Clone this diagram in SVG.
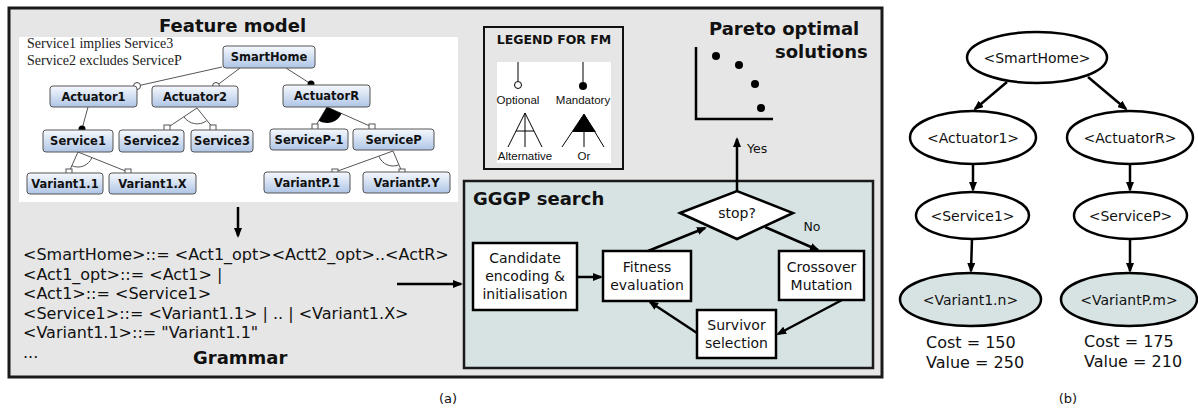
<svg xmlns="http://www.w3.org/2000/svg" width="1198" height="410" viewBox="0 0 1198 410">
<defs>
<linearGradient id="fg" x1="0" y1="0" x2="0" y2="1">
<stop offset="0" stop-color="#f6f9fd"/>
<stop offset="1" stop-color="#afc5e6"/>
</linearGradient>
<marker id="ah" viewBox="0 0 10 8" refX="8" refY="4" markerWidth="10" markerHeight="8" markerUnits="userSpaceOnUse" orient="auto">
<path d="M0,0 L10,4 L0,8 z" fill="#000"/>
</marker>
</defs>
<style>
.fm rect{fill:url(#fg);stroke:#555;stroke-width:1}
.fm text{font-family:"DejaVu Sans",sans-serif;font-weight:bold;font-size:11.5px;text-anchor:middle;fill:#111}
.fl{stroke:#555;stroke-width:1;fill:none}
.sq{fill:#fff;stroke:#555;stroke-width:1}
.oc{fill:#fff;stroke:#444;stroke-width:1}
.mc{fill:#000}
.t{font-family:"DejaVu Sans",sans-serif;fill:#111}
.b{font-family:"DejaVu Sans",sans-serif;font-weight:bold;font-size:18px;fill:#111}
.gr{font-family:"DejaVu Sans",sans-serif;font-size:16px;fill:#111}
.box{fill:#fff;stroke:#000;stroke-width:2.5}
.bt{font-family:"DejaVu Sans",sans-serif;font-size:14px;text-anchor:middle;fill:#111}
.ar{stroke:#000;stroke-width:2.5;fill:none;marker-end:url(#ah)}
.el{fill:#fff;stroke:#000;stroke-width:2.5}
.elv{fill:#d7e3e3;stroke:#000;stroke-width:2.5}
.lg{font-family:"Liberation Sans",sans-serif;font-size:11.5px;text-anchor:middle;fill:#111}
.ll{stroke:#000;stroke-width:1;fill:none}
</style>

<!-- panel (a) -->
<g id="panel-a">
<rect x="9" y="8" width="873" height="369" fill="#e6e6e6" stroke="#1a1a1a" stroke-width="3"/>
<text class="b" x="159" y="32">Feature model</text>
<rect x="19" y="37" width="439" height="165" fill="#fff"/>
<text x="27" y="48" font-family="Liberation Serif,serif" font-size="14px" fill="#222">Service1 implies Service3</text>
<text x="27" y="65" font-family="Liberation Serif,serif" font-size="14px" fill="#222">Service2 excludes ServiceP</text>
</g>

<!-- feature model connectors -->
<g id="fm-connectors">
<line class="fl" x1="222" y1="67" x2="137" y2="86"/>
<line class="fl" x1="240" y1="68" x2="216" y2="86"/>
<line class="fl" x1="286" y1="68" x2="311" y2="84"/>
<line class="fl" x1="88" y1="107" x2="82" y2="129"/>
<circle class="oc" cx="137" cy="86" r="3.5"/>
<circle class="oc" cx="216" cy="86" r="3.5"/>
<circle class="mc" cx="311" cy="84" r="3.5"/>
<circle class="mc" cx="82" cy="129" r="3.5"/>
<!-- Actuator2 alternative -->
<line class="fl" x1="197" y1="108" x2="167" y2="128"/>
<line class="fl" x1="197" y1="108" x2="213" y2="128"/>
<path class="fl" d="M184,116.9 A16,16 0 0 0 206.6,120.8"/>
<rect class="sq" x="164" y="125" width="6" height="6"/>
<rect class="sq" x="210" y="125" width="6" height="6"/>
<!-- ActuatorR or -->
<line class="fl" x1="327" y1="107" x2="315" y2="127"/>
<line class="fl" x1="327" y1="107" x2="372" y2="127"/>
<path d="M327,107 L318.8,120.7 A16,16 0 0 0 341.6,113.5 Z" fill="#000"/>
<rect class="sq" x="312" y="124" width="6" height="6"/>
<rect class="sq" x="369" y="124" width="6" height="6"/>
<!-- Service1 alternative -->
<line class="fl" x1="78" y1="152" x2="69" y2="172"/>
<line class="fl" x1="78" y1="152" x2="128" y2="172"/>
<path class="fl" d="M71.8,165.7 A15,15 0 0 0 91.9,157.6"/>
<rect class="sq" x="66" y="169" width="6" height="6"/>
<rect class="sq" x="125" y="169" width="6" height="6"/>
<!-- ServiceP alternative -->
<line class="fl" x1="393" y1="151" x2="335" y2="172"/>
<line class="fl" x1="393" y1="151" x2="402" y2="172"/>
<path class="fl" d="M378.9,156.1 A15,15 0 0 0 398.9,164.8"/>
<rect class="sq" x="332" y="169" width="6" height="6"/>
<rect class="sq" x="399" y="169" width="6" height="6"/>
</g>

<!-- feature model nodes -->
<g id="fm-smarthome" class="fm"><rect x="223" y="46" width="92" height="22" rx="3"/><text x="269" y="61">SmartHome</text></g>
<g id="fm-actuator1" class="fm"><rect x="50" y="86" width="87" height="21" rx="3"/><text x="93.5" y="100.5">Actuator1</text></g>
<g id="fm-actuator2" class="fm"><rect x="152" y="86" width="86" height="21" rx="3"/><text x="195" y="100.5">Actuator2</text></g>
<g id="fm-actuatorr" class="fm"><rect x="283" y="85" width="87" height="22" rx="3"/><text x="326.5" y="100">ActuatorR</text></g>
<g id="fm-service1" class="fm"><rect x="43" y="130" width="70" height="22" rx="3"/><text x="78" y="145">Service1</text></g>
<g id="fm-service2" class="fm"><rect x="119" y="130" width="65" height="22" rx="3"/><text x="151.5" y="145">Service2</text></g>
<g id="fm-service3" class="fm"><rect x="191" y="130" width="62" height="22" rx="3"/><text x="222" y="145">Service3</text></g>
<g id="fm-servicep1" class="fm"><rect x="270" y="129" width="78" height="21" rx="3"/><text x="309" y="143.5">ServiceP-1</text></g>
<g id="fm-servicep" class="fm"><rect x="353" y="129" width="81" height="21" rx="3"/><text x="393.5" y="143.5">ServiceP</text></g>
<g id="fm-variant11" class="fm"><rect x="27" y="173" width="76" height="21" rx="3"/><text x="65" y="187.5">Variant1.1</text></g>
<g id="fm-variant1x" class="fm"><rect x="109" y="173" width="87" height="21" rx="3"/><text x="152.5" y="187.5">Variant1.X</text></g>
<g id="fm-variantp1" class="fm"><rect x="264" y="172" width="86" height="21" rx="3"/><text x="307" y="186.5">VariantP.1</text></g>
<g id="fm-variantpy" class="fm"><rect x="363" y="172" width="87" height="21" rx="3"/><text x="406.5" y="186.5">VariantP.Y</text></g>

<!-- legend -->
<g id="legend">
<rect x="484" y="27" width="139" height="142" fill="none" stroke="#111" stroke-width="2"/>
<text x="554" y="44" font-family="DejaVu Sans,sans-serif" font-weight="bold" font-size="12.5px" text-anchor="middle" fill="#111">LEGEND FOR FM</text>
<rect x="497" y="62" width="114" height="101" fill="#fff"/>
<line class="ll" x1="518" y1="62" x2="518" y2="81"/>
<circle cx="518" cy="85" r="3.5" fill="#fff" stroke="#000" stroke-width="1"/>
<text class="lg" x="518" y="104">Optional</text>
<line class="ll" x1="583" y1="62" x2="583" y2="82"/>
<circle cx="583" cy="86" r="4" fill="#000"/>
<text class="lg" x="583" y="104">Mandatory</text>
<path class="ll" d="M508,147 L525,113 L542,147 M525,113 L525,147 M516,131 L534,131"/>
<text class="lg" x="525" y="160">Alternative</text>
<path class="ll" d="M562,147 L584,114 L604,147 M584,131 L584,147"/>
<path d="M584,114 L572,132 L596,132 Z" fill="#000"/>
<text class="lg" x="584" y="160">Or</text>
</g>

<!-- pareto -->
<g id="pareto">
<text class="b" x="709" y="35">Pareto optimal</text>
<text class="b" x="775" y="58">solutions</text>
<path d="M696,47 L696,119 L773,119" fill="none" stroke="#000" stroke-width="2.5"/>
<circle cx="716" cy="56" r="4" fill="#000"/>
<circle cx="739" cy="65" r="4" fill="#000"/>
<circle cx="755" cy="84" r="4" fill="#000"/>
<circle cx="761" cy="108" r="4" fill="#000"/>
</g>

<!-- grammar -->
<g id="grammar">
<text class="gr" x="23" y="260">&lt;SmartHome&gt;::= &lt;Act1_opt&gt;&lt;Actt2_opt&gt;..&lt;ActR&gt;</text>
<text class="gr" x="23" y="279.5">&lt;Act1_opt&gt;::= &lt;Act1&gt; |</text>
<text class="gr" x="23" y="299">&lt;Act1&gt;::= &lt;Service1&gt;</text>
<text class="gr" x="23" y="318.5">&lt;Service1&gt;::= &lt;Variant1.1&gt; | .. | &lt;Variant1.X&gt;</text>
<text class="gr" x="23" y="338">&lt;Variant1.1&gt;::= "Variant1.1"</text>
<text class="gr" x="23" y="357.5">...</text>
<text class="b" x="193" y="364">Grammar</text>
</g>

<!-- GGGP -->
<g id="gggp">
<rect x="464" y="181" width="409" height="187" fill="#d7e3e3" stroke="#1a1a1a" stroke-width="2.5"/>
<text class="b" x="473" y="205">GGGP search</text>
</g>
<g id="node-stop">
<polygon points="680,213 737,191 793,213 737,239" fill="#fff" stroke="#000" stroke-width="2.5"/>
<text class="bt" x="737" y="218">stop?</text>
</g>
<g id="node-candidate">
<rect class="box" x="473" y="243" width="104" height="67"/>
<text class="bt" x="525" y="263">Candidate</text>
<text class="bt" x="525" y="281">encoding &amp;</text>
<text class="bt" x="525" y="299">initialisation</text>
</g>
<g id="node-fitness">
<rect class="box" x="603" y="251" width="88" height="50"/>
<text class="bt" x="647" y="272">Fitness</text>
<text class="bt" x="647" y="290">evaluation</text>
</g>
<g id="node-crossover">
<rect class="box" x="779" y="251" width="85" height="49"/>
<text class="bt" x="821.5" y="272">Crossover</text>
<text class="bt" x="821.5" y="290">Mutation</text>
</g>
<g id="node-survivor">
<rect class="box" x="697" y="310" width="79" height="48"/>
<text class="bt" x="736.5" y="330">Survivor</text>
<text class="bt" x="736.5" y="348">selection</text>
</g>

<!-- tree (b) nodes -->
<g id="t-smarthome"><ellipse class="el" cx="1037" cy="57.5" rx="70" ry="25.5"/><text class="bt" x="1037" y="62.5">&lt;SmartHome&gt;</text></g>
<g id="t-actuator1"><ellipse class="el" cx="973" cy="137.5" rx="63" ry="26.5"/><text class="bt" x="973" y="142.5">&lt;Actuator1&gt;</text></g>
<g id="t-actuatorr"><ellipse class="el" cx="1130" cy="137.5" rx="63" ry="26.5"/><text class="bt" x="1130" y="142.5">&lt;ActuatorR&gt;</text></g>
<g id="t-service1"><ellipse class="el" cx="972.5" cy="215.5" rx="56.5" ry="23.5"/><text class="bt" x="972.5" y="220.5">&lt;Service1&gt;</text></g>
<g id="t-servicep"><ellipse class="el" cx="1130.5" cy="215.5" rx="56.5" ry="23.5"/><text class="bt" x="1130.5" y="220.5">&lt;ServiceP&gt;</text></g>
<g id="t-variant1n"><ellipse class="elv" cx="970.5" cy="299.5" rx="70.5" ry="26.5"/><text class="bt" x="970.5" y="304.5">&lt;Variant1.n&gt;</text></g>
<g id="t-variantpm"><ellipse class="elv" cx="1129" cy="299.5" rx="68" ry="26.5"/><text class="bt" x="1129" y="304.5">&lt;VariantP.m&gt;</text></g>
<g id="t-labels">
<text class="gr" x="926" y="348">Cost = 150</text>
<text class="gr" x="926" y="368">Value = 250</text>
<text class="gr" x="1084" y="347">Cost = 175</text>
<text class="gr" x="1084" y="367">Value = 210</text>
<text class="t" x="448" y="403" font-size="13px" text-anchor="middle">(a)</text>
<text class="t" x="1068" y="403" font-size="13px" text-anchor="middle">(b)</text>
</g>

<!-- connectors -->
<g id="connectors">
<line class="ar" x1="238" y1="207" x2="238" y2="236"/>
<line class="ar" x1="397" y1="284" x2="461" y2="284"/>
<line class="ar" x1="737" y1="191" x2="737" y2="139"/>
<text class="t" x="747" y="153" font-size="12.5px">Yes</text>
<line class="ar" x1="577" y1="277" x2="601" y2="277"/>
<line class="ar" x1="648" y1="251" x2="705" y2="228"/>
<line class="ar" x1="765" y1="227" x2="818" y2="250"/>
<text class="t" x="812" y="231" font-size="12.5px" text-anchor="middle">No</text>
<line class="ar" x1="842" y1="300" x2="778" y2="334"/>
<line class="ar" x1="697" y1="333" x2="650" y2="302"/>
<line class="ar" x1="1007" y1="82" x2="975" y2="109"/>
<line class="ar" x1="1088" y1="77" x2="1126" y2="109"/>
<line class="ar" x1="973" y1="164" x2="973" y2="190"/>
<line class="ar" x1="1130" y1="164" x2="1130" y2="190"/>
<line class="ar" x1="972" y1="239" x2="971" y2="271"/>
<line class="ar" x1="1130" y1="239" x2="1130" y2="271"/>
</g>
</svg>
